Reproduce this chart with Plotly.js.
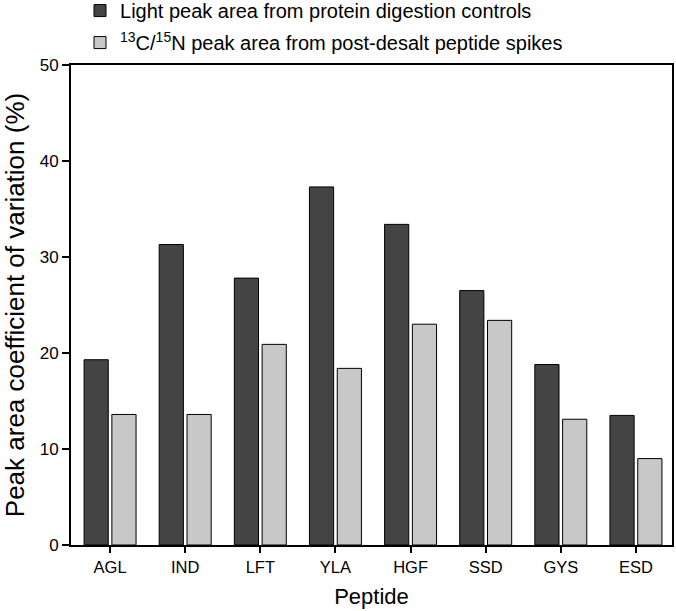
<!DOCTYPE html>
<html>
<head>
<meta charset="utf-8">
<script src="https://cdn.plot.ly/plotly-3.0.1.min.js"></script>
<style>
  html, body { margin: 0; padding: 0; background: #fff; }
  #graph { width: 676px; height: 611px; }
</style>
</head>
<body>
<div id="graph"></div>
<script>
var peptides = ['AGL', 'IND', 'LFT', 'YLA', 'HGF', 'SSD', 'GYS', 'ESD'];
var lightPeak = [19.3, 31.3, 27.8, 37.3, 33.4, 26.5, 18.8, 13.5];
var heavySpike = [13.6, 13.6, 20.9, 18.4, 23.0, 23.4, 13.1, 9.0];

var data = [
  {x: peptides,
   y: lightPeak,
   name: 'Light peak area from protein digestion controls',
   legendgroup: 'a',
   type: 'bar',
   marker: {color: '#444444', line: {color: '#000', width: 1}}
  },
  {x: peptides,
   y: heavySpike,
   name: '<sup>13</sup>C/<sup>15</sup>N peak area from post-desalt peptide spikes',
   legendgroup: 'b',
   type: 'bar',
   marker: {color: '#c8c8c8', line: {color: '#000', width: 1}}
  }];

var layout = {
  width: 676, height: 611,
  margin: {l: 71, r: 4, t: 65, b: 66, autoexpand: false},
  font: {family: 'Liberation Sans, Arial, sans-serif', color: '#000'},
  barmode: 'group',
  bargap: 0.26,
  bargroupgap: 0.13,
  showlegend: true,
  legend: {x: 0.015, xanchor: 'left', y: 1.154, yanchor: 'top',
           font: {size: 20}, traceorder: 'grouped', tracegroupgap: 3,
           bgcolor: 'rgba(0,0,0,0)'},
  xaxis: {title: {text: 'Peptide', font: {size: 22}, standoff: 14},
          range: [-0.52, 7.48],
          showline: true, linewidth: 2, linecolor: '#000', mirror: true,
          ticks: 'outside', ticklen: 6, tickwidth: 2, tickcolor: '#000',
          tickfont: {size: 16.5}},
  yaxis: {title: {text: 'Peak area coefficient of variation (%)', font: {size: 26}, standoff: 10},
          range: [0, 50], tickvals: [0, 10, 20, 30, 40, 50],
          showline: true, linewidth: 2, linecolor: '#000', mirror: true,
          showgrid: false, zeroline: false,
          ticks: 'outside', ticklen: 7, tickwidth: 2, tickcolor: '#000',
          tickfont: {size: 17}}
};

Plotly.newPlot('graph', data, layout, {displayModeBar: false});
</script>
</body>
</html>
